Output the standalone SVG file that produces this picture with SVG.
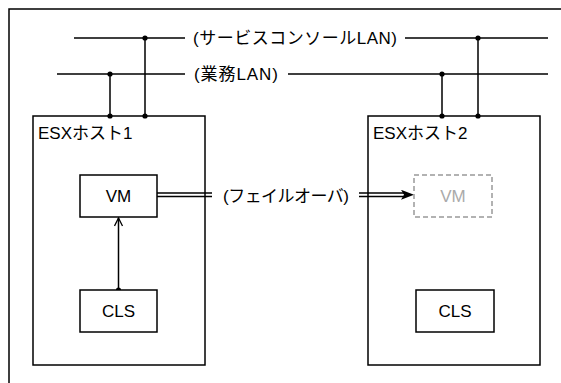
<svg xmlns="http://www.w3.org/2000/svg" width="561" height="383" viewBox="0 0 561 383">
<style>
.ln{stroke:#000;stroke-width:1.5;fill:none}
.box{fill:#fff;stroke:#000;stroke-width:1.5}
.t{font-family:"Liberation Sans","Noto Sans CJK JP",sans-serif;font-size:17px;fill:#000}
.c{text-anchor:middle}
.dot{fill:#000}
</style>
<defs>
<marker id="open" viewBox="0 0 10 10" refX="9" refY="5" markerWidth="10" markerHeight="10" markerUnits="userSpaceOnUse" orient="auto">
<path d="M1,1 L9,5 L1,9" fill="none" stroke="#000" stroke-width="1.3"/>
</marker>
<marker id="fill" viewBox="0 0 13 10" refX="13" refY="5" markerWidth="13" markerHeight="10" markerUnits="userSpaceOnUse" orient="auto">
<path d="M0,0 L13,5 L0,10 L3,5 Z" fill="#000"/>
</marker>
</defs>
<path class="ln" d="M9,383 V9 H561"/>
<g id="host1">
<rect class="box" x="33" y="116" width="172" height="249"/>
<text class="t" x="38" y="139">ESXホスト1</text>
</g>
<g id="host2">
<rect class="box" x="368" y="116" width="172" height="249"/>
<text class="t" x="373" y="139">ESXホスト2</text>
</g>
<g id="connectors">
<path class="ln" d="M74,38 H185 M405,38 H548"/>
<path class="ln" d="M57,74 H185 M288,74 H548"/>
<path class="ln" d="M110,74 V116 M145,38 V116 M442,74 V116 M478,38 V116"/>
<g class="dot">
<circle cx="110" cy="74" r="2.6"/><circle cx="110" cy="116" r="2.6"/>
<circle cx="145" cy="38" r="2.6"/><circle cx="145" cy="116" r="2.6"/>
<circle cx="442" cy="74" r="2.6"/><circle cx="442" cy="116" r="2.6"/>
<circle cx="478" cy="38" r="2.6"/><circle cx="478" cy="116" r="2.6"/>
</g>
<path class="ln" d="M157,193 H212 M157,196.5 H212 M359,193 H405 M359,196.5 H405" style="stroke-width:1.3"/>
<path d="M400,194.75 H414" stroke="none" marker-end="url(#fill)"/>
<path class="ln" d="M118.5,290 V218" marker-end="url(#open)"/>
<circle class="dot" cx="118.5" cy="290" r="2.6"/>
</g>
<g id="lan-labels">
<text class="t" x="193" y="44" textLength="204" lengthAdjust="spacing">(サービスコンソールLAN)</text>
<text class="t" x="194" y="80" textLength="84" lengthAdjust="spacing">(業務LAN)</text>
<text class="t" x="223" y="202" textLength="126" lengthAdjust="spacing">(フェイルオーバ)</text>
</g>
<g id="vm1">
<rect class="box" x="80" y="175" width="77" height="42"/>
<text class="t c" x="118.5" y="202">VM</text>
</g>
<g id="vm2">
<rect x="414" y="175" width="78" height="42" fill="#fff" stroke="#999" stroke-width="1.5" stroke-dasharray="5,3"/>
<text class="t c" x="453" y="202" style="fill:#aaa">VM</text>
</g>
<g id="cls1">
<rect class="box" x="80" y="290" width="77" height="42"/>
<text class="t c" x="118.5" y="317">CLS</text>
</g>
<g id="cls2">
<rect class="box" x="416" y="290" width="78" height="42"/>
<text class="t c" x="455" y="317">CLS</text>
</g>
</svg>
